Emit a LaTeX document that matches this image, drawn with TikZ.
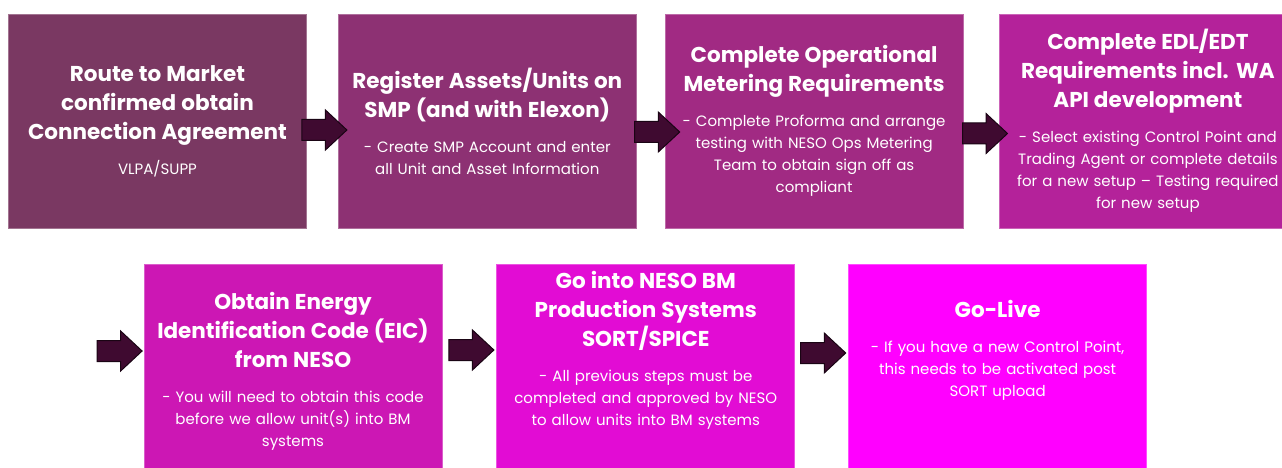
\documentclass[tikz,border=0pt]{standalone}
\usepackage{fontspec}
\setmainfont{Poppins}
\usetikzlibrary{positioning,calc,shapes.arrows}
\definecolor{stepA}{HTML}{7A3862}
\definecolor{stepB}{HTML}{8D3173}
\definecolor{stepC}{HTML}{A12A83}
\definecolor{stepD}{HTML}{B4229A}
\definecolor{stepE}{HTML}{CC17B4}
\definecolor{stepF}{HTML}{E20CD4}
\definecolor{stepG}{HTML}{FF00FF}
\definecolor{arrowfill}{HTML}{3F0A30}
\definecolor{arrowline}{HTML}{1A0414}
\tikzset{
  stepbox/.style={fill=#1, draw=#1!70!white, line width=0.8pt, minimum width=298pt, minimum height=214pt, inner sep=0pt},
  steptext/.style={text=white, align=center, text width=300pt, inner sep=0pt, font=\fontsize{15}{22}\selectfont},
  blockarrow/.style={single arrow, draw=arrowline, fill=arrowfill, line width=1pt, inner xsep=0pt, inner ysep=10pt,
    minimum height=45pt, minimum width=39pt, single arrow head extend=9.5pt, single arrow tip angle=86, anchor=tail}
}
\newcommand{\steptitle}[1]{{\bfseries\fontsize{21.5}{29}\selectfont #1\par}\vspace{13pt}}

\begin{document}
\begin{tikzpicture}[x=1pt, y=-1pt]
  \useasboundingbox (0,0) rectangle (1282,468);
  \clip (0,0) rectangle (1282,468);
  % first row
  \node[stepbox=stepA] (b1) at (157.5,121) {};
  \node[stepbox=stepB, right=31pt of b1] (b2) {};
  \node[stepbox=stepC, right=28pt of b2] (b3) {};
  \node[stepbox=stepD, right=35pt of b3] (b4) {};
  % second row
  \node[stepbox=stepE] (b5) at (293,371) {};
  \node[stepbox=stepF, right=54pt of b5] (b6) {};
  \node[stepbox=stepG, right=53pt of b6] (b7) {};

  \node[steptext] (t1) at (b1) {\steptitle{Route to Market\\confirmed obtain\\Connection Agreement}VLPA/SUPP};
  \node[steptext] (t2) at (b2) {\steptitle{Register Assets/Units on\\SMP (and with Elexon)}- Create SMP Account and enter\\all Unit and Asset Information};
  \node[steptext] (t3) at (b3) {\steptitle{Complete Operational\\Metering Requirements}- Complete Proforma and arrange\\testing with NESO Ops Metering\\Team to obtain sign off as\\compliant};
  \node[steptext] (t4) at (b4) {\steptitle{Complete EDL/EDT\\Requirements incl. WA\\API development}- Select existing Control Point and\\Trading Agent or complete details\\for a new setup – Testing required\\for new setup};
  \node[steptext] (t5) at (b5) {\steptitle{Obtain Energy\\Identification Code (EIC)\\from NESO}- You will need to obtain this code\\before we allow unit(s) into BM\\systems};
  \node[steptext] (t6) at ($(b6)+(0,-21)$) {\steptitle{Go into NESO BM\\Production Systems\\SORT/SPICE}- All previous steps must be\\completed and approved by NESO\\to allow units into BM systems};
  \node[steptext] (t7) at ($(b7)+(0,-21)$) {\steptitle{Go-Live}- If you have a new Control Point,\\this needs to be activated post\\SORT upload};

  % arrows between the steps
  \node[blockarrow] (a12) at ($(b1.east)+(-5.5,9)$) {};
  \node[blockarrow] (a23) at ($(b2.east)+(-2.5,11)$) {};
  \node[blockarrow] (a34) at ($(b3.east)+(-1.5,12.5)$) {};
  \coordinate (wrap) at ($(b5.west)+(-47,-20)$);
  \node[blockarrow] (a45) at (wrap) {};
  \node[blockarrow] (a56) at ($(b5.east)+(6,-21)$) {};
  \node[blockarrow] (a67) at ($(b6.east)+(5,-18)$) {};
\end{tikzpicture}
\end{document}
